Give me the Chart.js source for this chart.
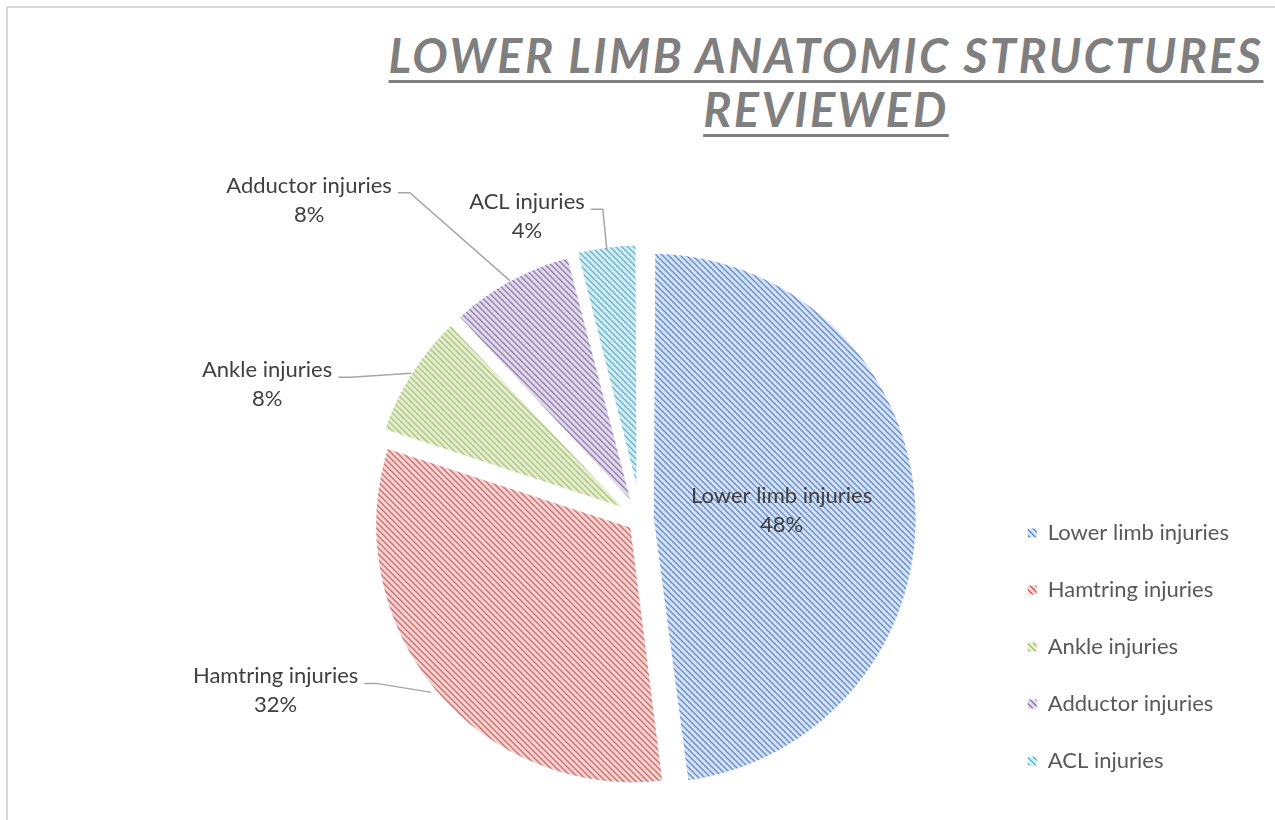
<!DOCTYPE html>
<html>
<head>
<meta charset="utf-8">
<script src="https://cdn.jsdelivr.net/npm/chart.js@4.4.0/dist/chart.umd.min.js"></script>
<style>
  body { margin: 0; background: #fff; }
  #wrap { position: relative; width: 1275px; height: 820px; overflow: hidden; }
  #frame { position: absolute; left: 6px; top: 6px; width: 1400px; height: 1000px;
           border-left: 2px solid #d9d9d9; border-top: 2px solid #d9d9d9; }
  #title { position: absolute; left: 250px; width: 1152px; top: 28px; text-align: center;
           font-family: Lato, sans-serif; font-weight: bold; font-style: italic; white-space: nowrap;
           font-size: 47px; line-height: 54px; letter-spacing: 2.4px; color: #7f7f7f;
           text-decoration: underline; text-decoration-thickness: 3px; text-underline-offset: 7px; }
  canvas { position: absolute; left: 0; top: 0; }
</style>
</head>
<body>
<div id="wrap">
  <div id="frame"></div>
  <div id="title">LOWER LIMB ANATOMIC STRUCTURES<br>REVIEWED</div>
  <canvas id="myChartPie" width="1275" height="820"></canvas>
</div>
<script>
// grafico lesioni arto inferiore

var categories = ['Lower limb injuries', 'Hamtring injuries', 'Ankle injuries', 'Adductor injuries', 'ACL injuries'];
var values = [48, 32, 8, 8, 4];
var lineColors = ['#4a7dc4', '#c24f4c', '#9bbb59', '#8064a2', '#4bacc6'];
var fillColors = ['#d6e1f3', '#f2d7d6', '#e6eed6', '#e1dbea', '#d5ecf3'];

// tratteggio diagonale come in Excel
function hatch(fg, bg) {
    var c = document.createElement('canvas');
    c.width = 6;
    c.height = 6;
    var x = c.getContext('2d');
    x.fillStyle = bg;
    x.fillRect(0, 0, 6, 6);
    x.fillStyle = fg;
    for (var i = 0; i < 6; i++) {
        x.globalAlpha = (i % 2 == 0) ? 1 : 0.85;
        x.fillRect(i, i, 1, 1);
        x.globalAlpha = 0.65;
        x.fillRect((i + 1) % 6, i, 1, 1);
    }
    return x.createPattern(c, 'repeat');
}

var patterns = lineColors.map(function (c, i) { return hatch(c, fillColors[i]); });

var labelFont = '22px Lato, sans-serif';

// etichette dati con linee guida
var dataLabels = {
    id: 'dataLabels',
    afterDatasetsDraw: function (chart, args, opts) {
        var ctx = chart.ctx;
        var meta = chart.getDatasetMeta(0);
        var total = values.reduce(function (a, b) { return a + b; }, 0);
        ctx.save();
        ctx.font = labelFont;
        ctx.fillStyle = '#404040';
        ctx.textBaseline = 'middle';
        meta.data.forEach(function (arc, i) {
            var p = arc.getProps(['x', 'y', 'startAngle', 'endAngle', 'outerRadius']);
            var mid = (p.startAngle + p.endAngle) / 2;
            var cx = p.x + Math.cos(mid) * opts.shift;
            var cy = p.y + Math.sin(mid) * opts.shift;
            var r = p.outerRadius + opts.rim;
            var name = categories[i];
            var pct = Math.round(values[i] / total * 100) + '%';
            var lead = opts.leaders[i];
            ctx.textAlign = 'center';
            if (!lead) {
                var tx = cx + Math.cos(mid) * r * 0.5;
                var ty = cy + Math.sin(mid) * r * 0.5;
                ctx.fillText(name, tx, ty - 14);
                ctx.fillText(pct, tx, ty + 15);
                return;
            }
            var ex = cx + Math.cos(mid) * r;
            var ey = cy + Math.sin(mid) * r;
            var kx = ex + lead[0];
            var ky = ey + lead[1];
            ctx.strokeStyle = '#a6a6a6';
            ctx.lineWidth = 1.5;
            ctx.beginPath();
            ctx.moveTo(ex, ey);
            ctx.lineTo(kx, ky);
            ctx.lineTo(kx - 12, ky);
            ctx.stroke();
            var w = ctx.measureText(name).width;
            var tx2 = kx - 18 - w / 2;
            ctx.fillText(name, tx2, ky - 7);
            ctx.fillText(pct, tx2, ky + 22);
        });
        ctx.restore();
    }
};

var baseLabels = Chart.overrides.doughnut.plugins.legend.labels.generateLabels;

new Chart('myChartPie', {
    type: 'pie',
    data: {
        labels: categories,
        datasets: [{
            data: values,
            backgroundColor: patterns,
            borderColor: '#ffffff',
            borderWidth: 6,
            offset: 40
        }]
    },
    options: {
        responsive: false,
        animation: false,
        radius: 259,
        layout: {
            padding: { left: 289, right: 36, top: 231, bottom: 13 }
        },
        plugins: {
            legend: {
                position: 'right',
                align: 'end',
                labels: {
                    boxWidth: 9,
                    boxHeight: 9,
                    padding: 35,
                    color: '#595959',
                    font: { family: 'Lato, sans-serif', size: 22 },
                    generateLabels: function (chart) {
                        var items = baseLabels(chart);
                        items.forEach(function (it) { it.lineWidth = 0; });
                        return items;
                    }
                }
            },
            tooltip: { enabled: false },
            dataLabels: {
                shift: 10,
                rim: 3,
                leaders: [null, [-55, -9], [-61, 4], [-100, -88], [-4, -40]]
            }
        }
    },
    plugins: [dataLabels]
});
</script>
</body>
</html>
